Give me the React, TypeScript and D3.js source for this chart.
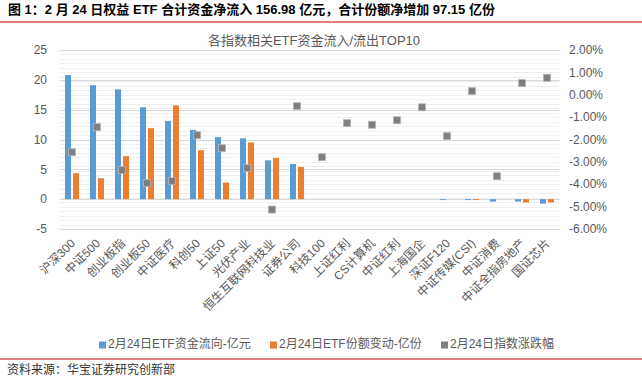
import React from "react";
import * as d3 from "d3";

const categories = ["沪深300","中证500","创业板指","创业板50","中证医疗","科创50","上证50","光伏产业","恒生互联网科技业","证券公司","科技100","上证红利","CS计算机","中证红利","上海国企","深证F120","中证传媒(CSI)","中证消费","中证全指房地产","国证芯片"];
const flowValues = [20.8,19.1,18.4,15.4,13.1,11.6,10.4,10.2,6.5,5.9,0,0,0,0,0,-0.15,-0.15,-0.4,-0.4,-0.75];
const shareValues = [4.35,3.5,7.2,11.9,15.7,8.2,2.8,9.5,6.9,5.4,0,0,0,0,0,0,-0.15,0,-0.55,-0.55];
const changeValues = [-2.57,-1.45,-3.37,-3.95,-3.86,-1.81,-2.39,-3.28,-5.13,-0.51,-2.79,-1.27,-1.34,-1.14,-0.56,-1.85,0.16,-3.64,0.52,0.76];
const leftTicks = [25,20,15,10,5,0,-5];
const rightTicks = [2,1,0,-1,-2,-3,-4,-5,-6];
const legendLabels = ["2月24日ETF资金流向-亿元","2月24日ETF份额变动-亿份","2月24日指数涨跌幅"];

const BLUE = "#5b9bd5";
const ORANGE = "#ed7d31";
const GRAY = "#7f7f7f";
const TXT = "#595959";
const FONT = "'Liberation Sans', Arial, 'Noto Sans CJK SC', sans-serif";

export default function App() {
  const W = 642, H = 379;
  const top = 50, bottom = 229, left = 59.5, right = 559.5;
  const x = d3.scaleBand<string>().domain(categories).range([left, right]);
  const yL = d3.scaleLinear().domain([-5, 25]).range([bottom, top]);
  const yR = d3.scaleLinear().domain([-6, 2]).range([bottom, top]);
  const minor = d3.range(-6, 2.0001, 0.2);
  const cx = (c: string) => (x(c) as number) + x.bandwidth() / 2;
  const legendColors = [BLUE, ORANGE, GRAY];
  const legendX = [99, 270, 441];

  return (
    <svg width={W} height={H} style={{ position: "absolute", left: 0, top: 0, background: "#fff" }} fontFamily={FONT}>
      <text x={8} y={14} fontSize={13} fill="#000" fontWeight={600}>图 1：2 月 24 日权益 ETF 合计资金净流入 156.98 亿元，合计份额净增加 97.15 亿份</text>
      <line x1={0} x2={W} y1={22} y2={22} stroke="#c00000" strokeWidth={1.2} />
      <text x={314} y={45} fontSize={13} fill={TXT} textAnchor="middle">各指数相关ETF资金流入/流出TOP10</text>

      {minor.map((v, i) => (
        <line key={"m" + i} x1={left} x2={right} y1={Math.round(yR(v)) + 0.5} y2={Math.round(yR(v)) + 0.5} stroke="#efefef" strokeWidth={1} />
      ))}
      {leftTicks.map((v) => (
        <line key={"g" + v} x1={left} x2={right} y1={Math.round(yL(v)) + 0.5} y2={Math.round(yL(v)) + 0.5} stroke="#d9d9d9" strokeWidth={1} />
      ))}

      {leftTicks.map((v) => (
        <text key={"l" + v} x={47} y={yL(v)} dy="0.35em" fontSize={12} fill={TXT} textAnchor="end">{v}</text>
      ))}
      {rightTicks.map((v) => (
        <text key={"r" + v} x={569} y={yR(v)} dy="0.35em" fontSize={12} fill={TXT}>{v.toFixed(2) + "%"}</text>
      ))}

      {categories.map((c, i) => {
        const c0 = cx(c);
        const fv = flowValues[i], sv = shareValues[i];
        return (
          <g key={"b" + i}>
            {fv !== 0 && <rect x={c0 - 7} width={6} y={Math.min(yL(fv), yL(0))} height={Math.abs(yL(fv) - yL(0))} fill={BLUE} />}
            {sv !== 0 && <rect x={c0 + 1} width={6} y={Math.min(yL(sv), yL(0))} height={Math.abs(yL(sv) - yL(0))} fill={ORANGE} />}
          </g>
        );
      })}
      {categories.map((c, i) => (
        <rect key={"s" + i} x={cx(c) - 3.5} y={yR(changeValues[i]) - 3.5} width={7} height={7} fill={GRAY} stroke="#b5b5b5" strokeWidth={0.8} />
      ))}

      {categories.map((c) => (
        <text key={"x" + c} transform={`translate(${cx(c) + 1},${bottom + 12}) rotate(-45)`} fontSize={12} fill={TXT} textAnchor="end" dy="0.35em">{c}</text>
      ))}

      {legendLabels.map((t, i) => (
        <g key={"lg" + i}>
          <rect x={legendX[i]} y={341.5} width={7} height={7} fill={legendColors[i]} />
          <text x={legendX[i] + 9} y={347.5} fontSize={12} fill={TXT}>{t}</text>
        </g>
      ))}
      <line x1={0} x2={W} y1={359} y2={359} stroke="#c00000" strokeWidth={1.2} />
      <text x={7} y={374} fontSize={12} fill="#333">资料来源：华宝证券研究创新部</text>
    </svg>
  );
}
